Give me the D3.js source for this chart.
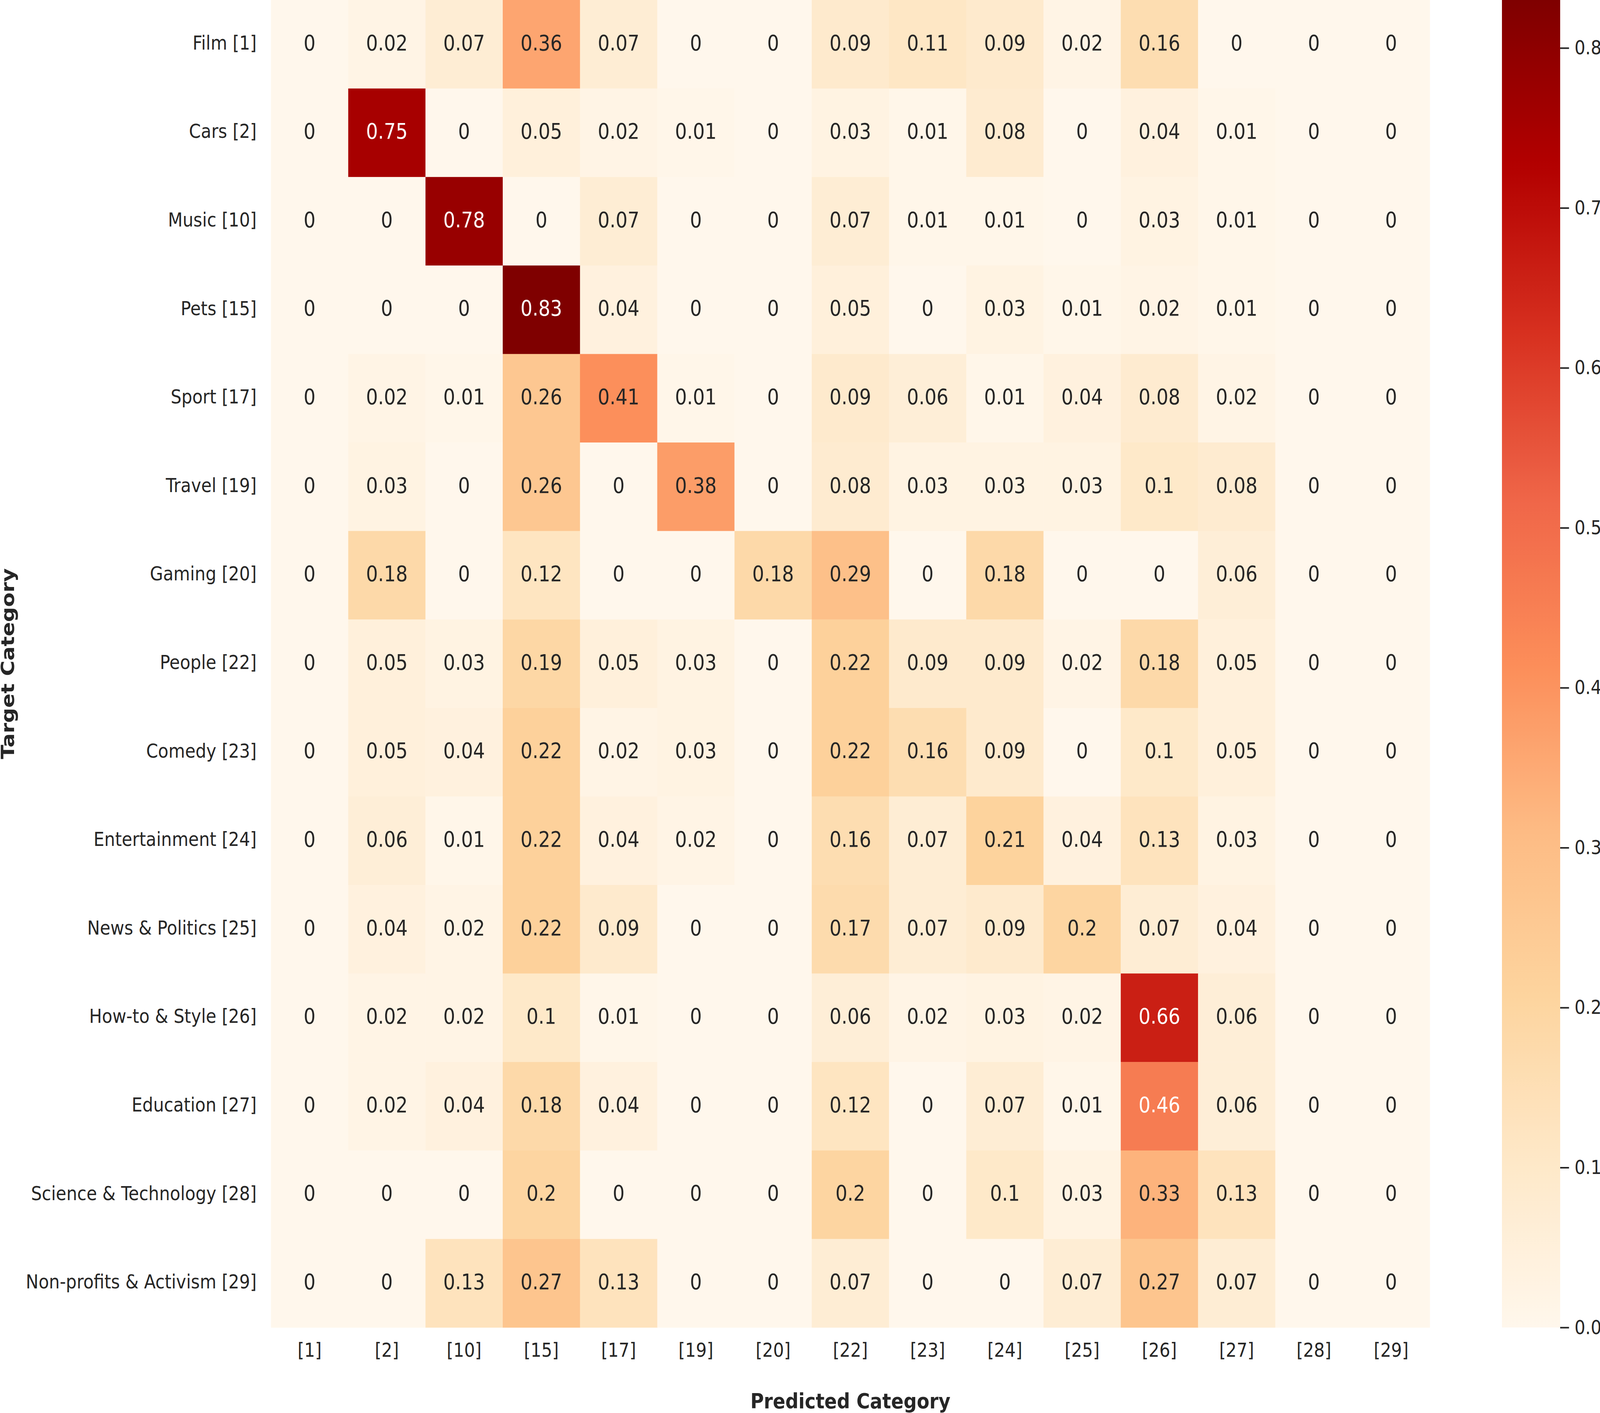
<!DOCTYPE html>
<html>
<head>
<meta charset="utf-8">
<script src="https://cdn.jsdelivr.net/npm/d3@7"></script>
<style>
  html, body { margin: 0; padding: 0; background: #fff; overflow: hidden; }
  text { font-family: "DejaVu Sans", sans-serif; fill: #262626; }
</style>
</head>
<body>
<div id="chart"></div>
<script>
// rows = target category, cols = predicted category
var targetLabels = ['Film [1]', 'Cars [2]', 'Music [10]', 'Pets [15]', 'Sport [17]', 'Travel [19]',
  'Gaming [20]', 'People [22]', 'Comedy [23]', 'Entertainment [24]', 'News & Politics [25]',
  'How-to & Style [26]', 'Education [27]', 'Science & Technology [28]', 'Non-profits & Activism [29]'];
var predictedLabels = ['[1]', '[2]', '[10]', '[15]', '[17]', '[19]', '[20]', '[22]', '[23]',
  '[24]', '[25]', '[26]', '[27]', '[28]', '[29]'];

var film      = [0, 0.02, 0.07, 0.36, 0.07, 0, 0, 0.09, 0.11, 0.09, 0.02, 0.16, 0, 0, 0];
var cars      = [0, 0.75, 0, 0.05, 0.02, 0.01, 0, 0.03, 0.01, 0.08, 0, 0.04, 0.01, 0, 0];
var music     = [0, 0, 0.78, 0, 0.07, 0, 0, 0.07, 0.01, 0.01, 0, 0.03, 0.01, 0, 0];
var pets      = [0, 0, 0, 0.83, 0.04, 0, 0, 0.05, 0, 0.03, 0.01, 0.02, 0.01, 0, 0];
var sport     = [0, 0.02, 0.01, 0.26, 0.41, 0.01, 0, 0.09, 0.06, 0.01, 0.04, 0.08, 0.02, 0, 0];
var travel    = [0, 0.03, 0, 0.26, 0, 0.38, 0, 0.08, 0.03, 0.03, 0.03, 0.1, 0.08, 0, 0];
var gaming    = [0, 0.18, 0, 0.12, 0, 0, 0.18, 0.29, 0, 0.18, 0, 0, 0.06, 0, 0];
var people    = [0, 0.05, 0.03, 0.19, 0.05, 0.03, 0, 0.22, 0.09, 0.09, 0.02, 0.18, 0.05, 0, 0];
var comedy    = [0, 0.05, 0.04, 0.22, 0.02, 0.03, 0, 0.22, 0.16, 0.09, 0, 0.1, 0.05, 0, 0];
var entertain = [0, 0.06, 0.01, 0.22, 0.04, 0.02, 0, 0.16, 0.07, 0.21, 0.04, 0.13, 0.03, 0, 0];
var news      = [0, 0.04, 0.02, 0.22, 0.09, 0, 0, 0.17, 0.07, 0.09, 0.2, 0.07, 0.04, 0, 0];
var howto     = [0, 0.02, 0.02, 0.1, 0.01, 0, 0, 0.06, 0.02, 0.03, 0.02, 0.66, 0.06, 0, 0];
var education = [0, 0.02, 0.04, 0.18, 0.04, 0, 0, 0.12, 0, 0.07, 0.01, 0.46, 0.06, 0, 0];
var science   = [0, 0, 0, 0.2, 0, 0, 0, 0.2, 0, 0.1, 0.03, 0.33, 0.13, 0, 0];
var nonprofit = [0, 0, 0.13, 0.27, 0.13, 0, 0, 0.07, 0, 0, 0.07, 0.27, 0.07, 0, 0];

var rows = [film, cars, music, pets, sport, travel, gaming, people, comedy, entertain,
  news, howto, education, science, nonprofit];

var colorbarTicks = [0, 0.1, 0.2, 0.3, 0.4, 0.5, 0.6, 0.7, 0.8];

(function() {

  // drawn in 4700x3618 units, stretched to whatever the window really is
  var W = 4700, H = 3618;
  var mLeft = 796, mRight = 4200, mTop = 0, mBottom = 3399;

  var svg = d3.select("#chart").append("svg")
    .attr("viewBox", "0 0 " + W + " " + H)
    .attr("preserveAspectRatio", "none")
    .style("width", "100vw")
    .style("height", "100vh")
    .style("display", "block");

  var x = d3.scaleBand().domain(predictedLabels).range([mLeft, mRight]);
  var y = d3.scaleBand().domain(targetLabels).range([mTop, mBottom]);

  // OrRd, linear between the colorbrewer stops like matplotlib
  var vmax = d3.max(rows, function(r) { return d3.max(r); });
  var orrd = ['#fff7ec', '#fee8c8', '#fdd49e', '#fdbb84', '#fc8d59', '#ef6548', '#d7301f', '#b30000', '#7f0000'];
  var color = d3.scaleLinear()
    .domain(orrd.map(function(c, i) { return i / (orrd.length - 1) * vmax; }))
    .range(orrd)
    .clamp(true);

  function luminance(c) {
    var rgb = d3.rgb(c);
    var ch = [rgb.r, rgb.g, rgb.b].map(function(v) {
      v = v / 255;
      return v <= 0.03928 ? v / 12.92 : Math.pow((v + 0.055) / 1.055, 2.4);
    });
    return 0.2126 * ch[0] + 0.7152 * ch[1] + 0.0722 * ch[2];
  }

  var cells = [];
  rows.forEach(function(r, i) {
    r.forEach(function(v, j) {
      cells.push({ row: targetLabels[i], col: predictedLabels[j], value: v });
    });
  });

  var fmt = d3.format(".2~g");

  svg.append("g").selectAll("rect")
    .data(cells)
    .enter().append("rect")
      .attr("x", function(d) { return x(d.col); })
      .attr("y", function(d) { return y(d.row); })
      .attr("width", x.bandwidth() + 0.5)
      .attr("height", y.bandwidth() + 0.5)
      .attr("fill", function(d) { return color(d.value); });

  svg.append("g").selectAll("text")
    .data(cells)
    .enter().append("text")
      .attr("x", function(d) { return x(d.col) + x.bandwidth() / 2; })
      .attr("y", function(d) { return y(d.row) + y.bandwidth() / 2; })
      .attr("dy", "0.28em")
      .attr("text-anchor", "middle")
      .style("font-size", "55px")
      .style("fill", function(d) { return luminance(color(d.value)) > 0.408 ? "#262626" : "#ffffff"; })
      .text(function(d) { return fmt(d.value); });

  // axes
  var xAxis = svg.append("g")
    .attr("transform", "translate(0," + mBottom + ")")
    .call(d3.axisBottom(x).tickSize(0).tickPadding(40));
  var yAxis = svg.append("g")
    .attr("transform", "translate(" + mLeft + ",0)")
    .call(d3.axisLeft(y).tickSize(0).tickPadding(42));

  [xAxis, yAxis].forEach(function(a) {
    a.select(".domain").remove();
    a.selectAll("text")
      .style("font-family", "DejaVu Sans")
      .style("font-size", "50px")
      .style("fill", "#262626");
  });
  yAxis.selectAll("text").attr("dy", "0.27em");

  svg.append("text")
    .attr("x", (mLeft + mRight) / 2)
    .attr("y", 3606)
    .attr("text-anchor", "middle")
    .style("font-size", "54px")
    .style("font-weight", "bold")
    .text("Predicted Category");

  svg.append("text")
    .attr("transform", "translate(41," + (mTop + mBottom) / 2 + ") rotate(-90)")
    .attr("text-anchor", "middle")
    .style("font-size", "54px")
    .style("font-weight", "bold")
    .text("Target Category");

  // colorbar
  var cbLeft = 4412, cbWidth = 171;
  var cbScale = d3.scaleLinear().domain([0, vmax]).range([mBottom, mTop]);

  var grad = svg.append("defs").append("linearGradient")
    .attr("id", "cbgrad")
    .attr("x1", "0").attr("y1", "1")
    .attr("x2", "0").attr("y2", "0");
  grad.selectAll("stop")
    .data(d3.range(0, 101))
    .enter().append("stop")
      .attr("offset", function(d) { return d + "%"; })
      .attr("stop-color", function(d) { return color(d / 100 * vmax); });

  svg.append("rect")
    .attr("x", cbLeft)
    .attr("y", mTop)
    .attr("width", cbWidth)
    .attr("height", mBottom - mTop)
    .attr("fill", "url(#cbgrad)");

  var cbAxis = svg.append("g")
    .attr("transform", "translate(" + (cbLeft + cbWidth) + ",0)")
    .call(d3.axisRight(cbScale).tickValues(colorbarTicks).tickFormat(d3.format(".1f"))
      .tickSize(26).tickPadding(16));
  cbAxis.select(".domain").remove();
  cbAxis.selectAll("line").attr("stroke", "#262626").attr("stroke-width", 4);
  cbAxis.selectAll("text")
    .style("font-family", "DejaVu Sans")
    .style("font-size", "50px")
    .style("fill", "#262626");

})();
</script>
</body>
</html>
